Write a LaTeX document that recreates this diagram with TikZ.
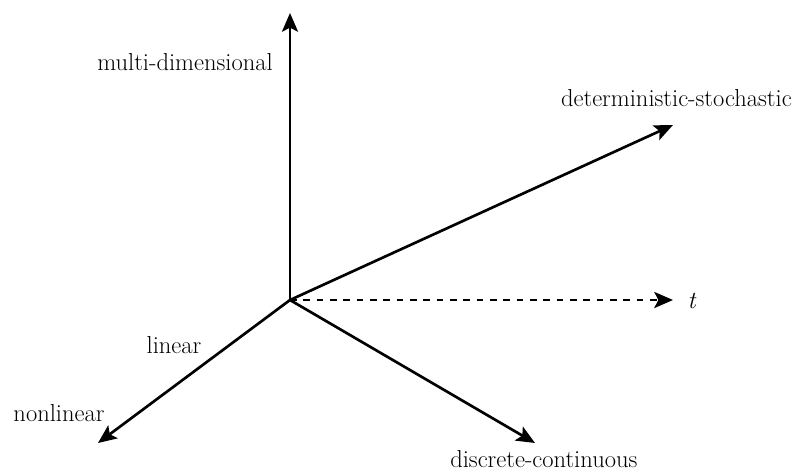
\documentclass[tikz,border=0pt]{standalone}
\usepackage{tikz}
\usetikzlibrary{arrows.meta}
\newcommand{\AxisFont}{\rmfamily\fontsize{18.4}{21}\selectfont}

\begin{document}
\begin{tikzpicture}[x=0.75pt,y=-0.75pt]
        \tikzset{
          axisline/.style={line width=2pt,-{Stealth[length=14pt,width=12pt,inset=3pt]}},
          axislabel/.style={inner sep=0pt,font=\AxisFont}
        }
        \useasboundingbox (0,0) rectangle (795,474);
        \coordinate (origin) at (290,300);
        \coordinate (multi) at (290,13);
        \coordinate (determ) at (673,125);
        \coordinate (time) at (673,300);
        \coordinate (nonlin) at (98,443);
        \coordinate (discr) at (535,443);
        % axes
        \draw[axisline] (origin) -- (multi);
        \draw[axisline] (origin) -- (determ);
        \draw[axisline,dash pattern=on 5pt off 5pt] (origin) -- (time);
        \draw[axisline] (origin) -- (nonlin);
        \draw[axisline] (origin) -- (discr);
        % labels
        \node[axislabel] (multilabel) at (185,62) {multi-dimensional};
        \node[axislabel,anchor=east] (determlabel) at (792,98) {deterministic-stochastic};
        \node[axislabel] (timelabel) at (692,301) {\textit{t}};
        \node[axislabel] (linlabel) at (174,345) {linear};
        \node[axislabel] (nonlinlabel) at (59,413) {nonlinear};
        \node[axislabel,anchor=west] (discrlabel) at (450,459) {discrete-continuous};
      \end{tikzpicture}
\end{document}
